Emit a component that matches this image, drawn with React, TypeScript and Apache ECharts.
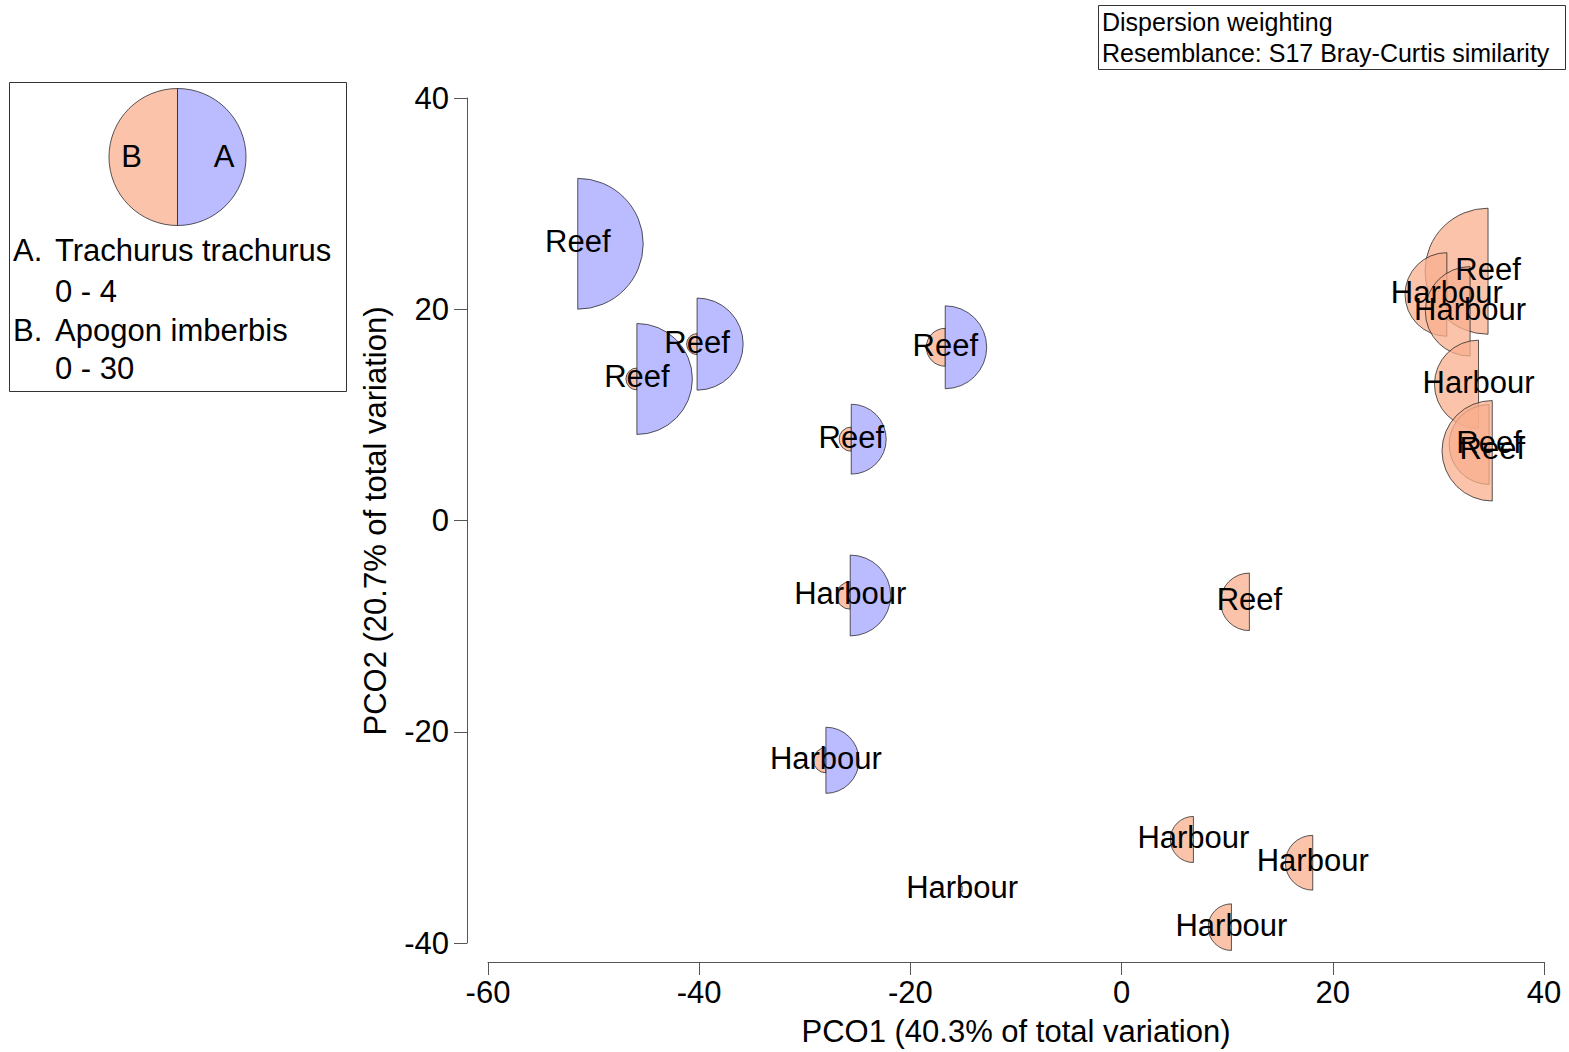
import React, { useEffect, useRef } from 'react';
import * as echarts from 'echarts';

const groups = ['Reef', 'Reef', 'Reef', 'Reef', 'Reef', 'Harbour', 'Harbour', 'Harbour', 'Harbour', 'Harbour', 'Harbour', 'Reef', 'Reef', 'Harbour', 'Harbour', 'Harbour', 'Reef', 'Reef'];
const pco1 = [-51.5, -45.9, -40.2, -16.7, -25.6, -25.7, -28.0, -15.1, 6.8, 18.1, 10.4, 12.1, 34.7, 30.8, 33.0, 33.8, 34.8, 35.1];
const pco2 = [26.2, 13.4, 16.7, 16.4, 7.7, -7.1, -22.7, -34.9, -30.2, -32.4, -38.5, -7.7, 23.6, 21.4, 19.8, 12.9, 7.2, 6.6];
const trachurus = [3.82, 3.24, 2.69, 2.42, 2.04, 2.36, 1.93, 0, 0, 0, 0, 0, 0, 0, 0, 0, 0, 0];
const apogon = [0, 4.8, 4.6, 8.3, 5.3, 6.0, 5.5, 1.3, 10.1, 12.0, 10.2, 12.6, 27.6, 18.3, 19.6, 19.3, 17.5, 22.0];

const xTicks = { min: -60, max: 40, interval: 20 };
const yTicks = { min: -40, max: 40, interval: 20 };
const A_MAX = 4;
const B_MAX = 30;

const MAX_R = 68.5;
const ORANGE = 'rgb(248,175,142)';
const BLUE = 'rgb(164,164,255)';
const STROKE = '#222';
const OP = 0.75;
const FONT = 'Arial, "Liberation Sans", sans-serif';
const FS = 31;

export default function App() {
  const ref = useRef<HTMLDivElement>(null);
  useEffect(() => {
    const chart = echarts.init(ref.current!, null, { renderer: 'svg' });
    const data = pco1.map((x, i) => [x, pco2[i], trachurus[i], apogon[i]]);

    const halves = (cx: number, cy: number, rA: number, rB: number) => {
      const ch: any[] = [];
      if (rB > 0) {
        ch.push({
          type: 'sector',
          shape: { cx, cy, r: rB, r0: 0, startAngle: Math.PI / 2, endAngle: Math.PI * 1.5, clockwise: true },
          style: { fill: ORANGE, stroke: STROKE, lineWidth: 1, opacity: OP },
        });
      }
      if (rA > 0) {
        ch.push({
          type: 'sector',
          shape: { cx, cy, r: rA, r0: 0, startAngle: -Math.PI / 2, endAngle: Math.PI / 2, clockwise: true },
          style: { fill: BLUE, stroke: STROKE, lineWidth: 1, opacity: OP },
        });
      }
      return ch;
    };

    const txt = (text: string, x: number, y: number, size: number, align = 'left', extra: any = {}) => ({
      type: 'text',
      x,
      y,
      ...extra,
      style: { text, fill: '#000', fontSize: size, fontFamily: FONT, align, verticalAlign: 'middle' },
    });

    const option: any = {
      animation: false,
      backgroundColor: '#fff',
      grid: { left: 488, right: 25, top: 98, bottom: 109 },
      xAxis: {
        type: 'value',
        min: xTicks.min,
        max: xTicks.max,
        interval: xTicks.interval,
        offset: 19,
        axisLine: { show: true, onZero: false, lineStyle: { color: '#555', width: 1 } },
        axisTick: { show: true, length: 13, lineStyle: { color: '#555' } },
        axisLabel: { fontSize: FS, color: '#000', fontFamily: FONT, margin: 15 },
        splitLine: { show: false },
      },
      yAxis: {
        type: 'value',
        min: yTicks.min,
        max: yTicks.max,
        interval: yTicks.interval,
        offset: 21,
        axisLine: { show: true, onZero: false, lineStyle: { color: '#555', width: 1 } },
        axisTick: { show: true, length: 13, lineStyle: { color: '#555' } },
        axisLabel: { fontSize: FS, color: '#000', fontFamily: FONT, margin: 18 },
        splitLine: { show: false },
      },
      series: [
        {
          type: 'custom',
          data,
          encode: { x: 0, y: 1 },
          clip: false,
          renderItem: (params: any, api: any) => {
            const p = api.coord([api.value(0), api.value(1)]);
            const rA = (MAX_R * (api.value(2) as number)) / A_MAX;
            const rB = (MAX_R * (api.value(3) as number)) / B_MAX;
            return { type: 'group', children: halves(p[0], p[1], rA, rB) };
          },
        },
        {
          type: 'custom',
          data,
          z: 5,
          encode: { x: 0, y: 1 },
          clip: false,
          renderItem: (params: any, api: any) => {
            const p = api.coord([api.value(0), api.value(1)]);
            return {
              type: 'text',
              x: p[0],
              y: p[1] - 2,
              style: {
                text: groups[params.dataIndex],
                fill: '#000',
                fontSize: FS,
                fontFamily: FONT,
                align: 'center',
                verticalAlign: 'middle',
              },
            };
          },
        },
      ],
      graphic: [
        {
          type: 'rect',
          shape: { x: 1098.5, y: 5.5, width: 467, height: 64 },
          style: { fill: '#fff', stroke: '#333', lineWidth: 1 },
        },
        txt('Dispersion weighting', 1102, 22, 25),
        txt('Resemblance: S17 Bray-Curtis similarity', 1102, 53, 25),
        {
          type: 'rect',
          shape: { x: 9.5, y: 82.5, width: 337, height: 309 },
          style: { fill: '#fff', stroke: '#333', lineWidth: 1 },
        },
        ...halves(177.5, 157, MAX_R, MAX_R),
        txt('B', 131.5, 156, FS, 'center'),
        txt('A', 224, 156, FS, 'center'),
        txt('A.', 13, 250, FS),
        txt('Trachurus trachurus', 55, 250, FS),
        txt('0 - 4', 55, 291, FS),
        txt('B.', 13, 330, FS),
        txt('Apogon imberbis', 55, 330, FS),
        txt('0 - 30', 55, 368, FS),
        txt('PCO1 (40.3% of total variation)', 1016, 1031, FS, 'center'),
        txt('PCO2 (20.7% of total variation)', 375, 521, FS, 'center', { rotation: Math.PI / 2 }),
      ],
    };
    chart.setOption(option);
    return () => chart.dispose();
  }, []);
  return (
    <div
      ref={ref}
      style={{ position: 'fixed', left: 0, top: 0, width: 1569, height: 1052, background: '#fff' }}
    />
  );
}
